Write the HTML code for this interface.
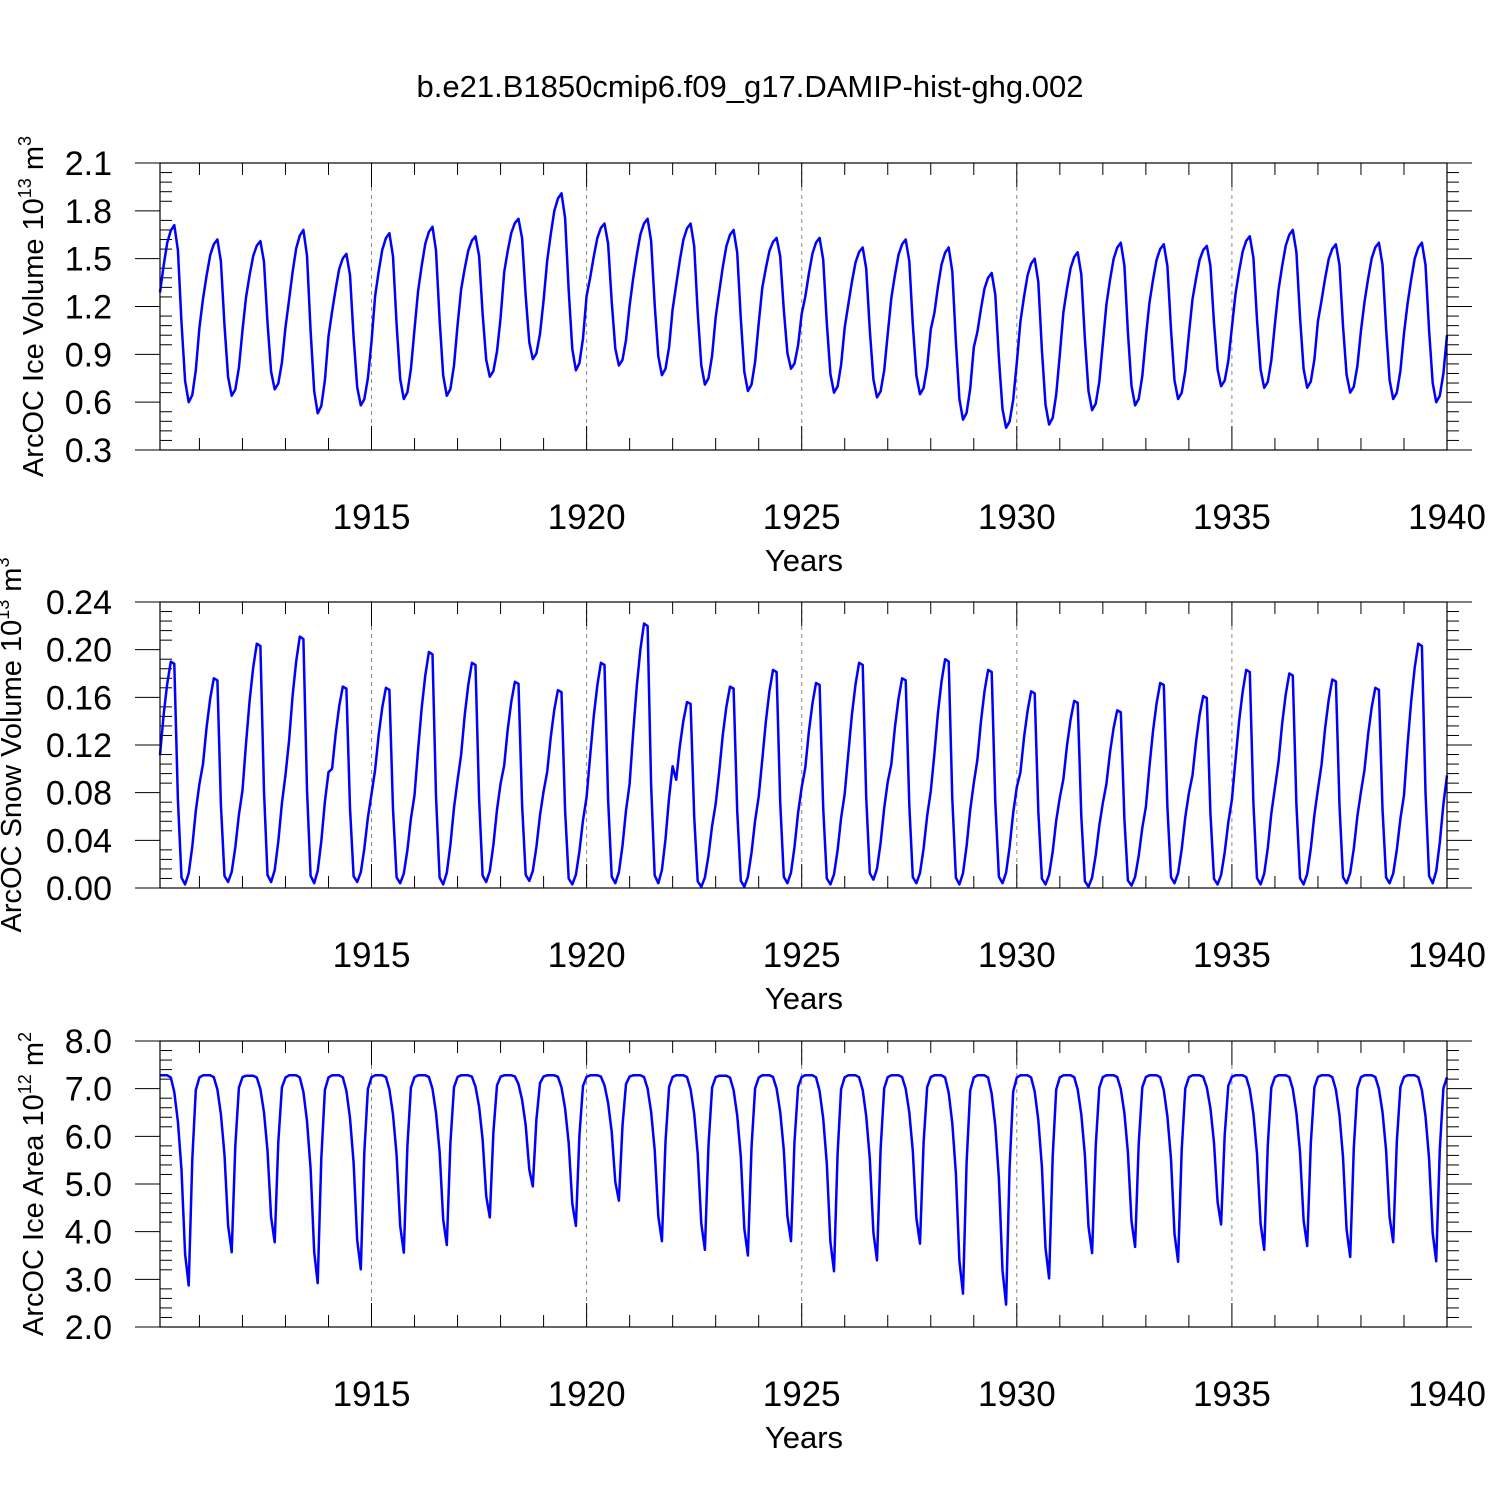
<!DOCTYPE html>
<html><head><meta charset="utf-8"><style>
html,body{margin:0;padding:0;background:#fff}
svg{display:block;font-family:"Liberation Sans",sans-serif}
</style></head><body>
<svg id="c" width="1500" height="1500" xmlns="http://www.w3.org/2000/svg">
<text x="750" y="97" text-anchor="middle" font-size="31">b.e21.B1850cmip6.f09_g17.DAMIP-hist-ghg.002</text>
</svg>
<script>
// Ice volume: yearly peaks and Sep troughs (10^13 m3), seasonal profile
const iceVolPeak=[1.71,1.62,1.61,1.68,1.53,1.66,1.70,1.64,1.75,1.91,1.72,1.75,1.72,1.68,1.63,1.63,1.57,1.62,1.57,1.41,1.50,1.54,1.60,1.59,1.58,1.64,1.68,1.59,1.60,1.60];
const iceVolTrough=[0.60,0.64,0.68,0.53,0.58,0.62,0.64,0.76,0.87,0.80,0.83,0.77,0.71,0.67,0.81,0.66,0.63,0.65,0.49,0.44,0.46,0.55,0.58,0.62,0.70,0.69,0.69,0.66,0.62,0.60];
const iceVolProfile=[0.62,0.77,0.9,0.97,1.0,0.86,0.45,0.12,0,0.04,0.18,0.42];
// Snow volume: yearly peaks
const snowPeak=[0.190,0.176,0.205,0.211,0.169,0.168,0.198,0.189,0.173,0.166,0.189,0.222,0.156,0.169,0.183,0.172,0.189,0.176,0.192,0.183,0.165,0.157,0.149,0.172,0.161,0.183,0.180,0.175,0.168,0.205];
const snowTrough=[0.003,0.005,0.005,0.004,0.005,0.004,0.003,0.005,0.006,0.003,0.004,0.004,0.001,0.001,0.004,0.003,0.007,0.004,0.003,0.004,0.003,0.001,0.002,0.004,0.003,0.003,0.003,0.004,0.004,0.004];
const snowProfile=[0.58,0.76,0.9,1.0,0.99,0.38,0.03,0.0,0.05,0.17,0.33,0.45];
// Ice area: yearly Sep troughs (10^12 m2), winter max
const areaMax=[7.28,7.28,7.27,7.28,7.28,7.28,7.28,7.28,7.28,7.28,7.28,7.28,7.28,7.27,7.28,7.28,7.28,7.28,7.28,7.28,7.28,7.28,7.28,7.28,7.28,7.28,7.28,7.28,7.28,7.28];
const areaTrough=[2.87,3.57,3.78,2.92,3.21,3.56,3.72,4.30,4.95,4.12,4.65,3.80,3.62,3.50,3.80,3.17,3.40,3.75,2.70,2.47,3.02,3.55,3.68,3.37,4.15,3.62,3.70,3.47,3.78,3.38];
const areaProfile=[1,1,1,0.99,0.92,0.78,0.55,0.15,0,0.6,0.93,0.99];
const xTicks=[1915,1920,1925,1930,1935,1940];

const NS="http://www.w3.org/2000/svg";
const svg=document.getElementById('c');
const X0=160,X1=1447,T0=1910+1/12,T1=1940;
function xs(t){return X0+(t-T0)/(T1-T0)*(X1-X0);}
function mk(tag,attrs,parent){const e=document.createElementNS(NS,tag);for(const k in attrs)e.setAttribute(k,attrs[k]);(parent||svg).appendChild(e);return e;}
function series(peak,trough,prof){const v=[];for(let y=0;y<peak.length;y++)for(let m=0;m<12;m++)v.push(trough[y]+prof[m]*(peak[y]-trough[y]));return v;}

const panels=[
 {top:163,bot:450,ymin:0.3,ymax:2.1,major:0.3,minor:0.06,fmt:v=>v.toFixed(1),vals:series(iceVolPeak,iceVolTrough,iceVolProfile),title:"ArcOC Ice Volume 10",sup:"13",unit:"m",usup:"3",name:"ice-volume",tx:43},
 {top:602,bot:888,ymin:0,ymax:0.24,major:0.04,minor:0.008,fmt:v=>v.toFixed(2),vals:series(snowPeak,snowTrough,snowProfile),title:"ArcOC Snow Volume 10",sup:"13",unit:"m",usup:"3",name:"snow-volume",tx:21},
 {top:1041,bot:1327,ymin:2,ymax:8,major:1,minor:0.2,fmt:v=>v.toFixed(1),vals:series(areaMax,areaTrough,areaProfile),title:"ArcOC Ice Area 10",sup:"12",unit:"m",usup:"2",name:"ice-area",tx:43}
];
panels.forEach(p=>{
 const g=mk('g',{});
 
 
 const ys=v=>p.bot-(v-p.ymin)/(p.ymax-p.ymin)*(p.bot-p.top);
 xTicks.forEach(t=>{const l=mk('line',{x1:xs(t),x2:xs(t),y1:p.top,y2:p.bot,stroke:'#888','stroke-width':1,'stroke-dasharray':'4,4'},g);
  });
 for(let yr=1911;yr<=1940;yr++){const x=xs(yr);const L=(yr%5==0)?24:12;
  mk('line',{x1:x,x2:x,y1:p.top,y2:p.top+L,stroke:'#000','stroke-width':1},g);
  mk('line',{x1:x,x2:x,y1:p.bot,y2:p.bot-L,stroke:'#000','stroke-width':1},g);}
 xTicks.forEach(t=>{const tx=mk('text',{x:xs(t),y:p.bot+79,'text-anchor':'middle','font-size':35},g);tx.textContent=t;
  });
 const xt=mk('text',{x:804,y:p.bot+121,'text-anchor':'middle','font-size':31},g);xt.textContent='Years';
 
 const nMin=Math.round((p.ymax-p.ymin)/p.minor);
 for(let i=0;i<=nMin;i++){const v=p.ymin+i*p.minor;const y=ys(v);const maj=(i%5==0);
  mk('line',{x1:X0-(maj?25:0),x2:X0+(maj?0:12),y1:y,y2:y,stroke:'#000','stroke-width':1},g);
  mk('line',{x1:X1,x2:X1+(maj?25:12),y1:y,y2:y,stroke:'#000','stroke-width':1},g);
  if(maj){const tx=mk('text',{x:112,y:y+12,'text-anchor':'end','font-size':34},g);tx.textContent=p.fmt(v);
   }}
 const cy=(p.top+p.bot)/2;
 const yt=mk('text',{x:0,y:0,'text-anchor':'middle','font-size':29,transform:`translate(${p.tx},${cy}) rotate(-90)`},g);
 
 yt.innerHTML=`${p.title}<tspan dy="-12" font-size="18">${p.sup}</tspan><tspan dy="12"> ${p.unit}</tspan><tspan dy="-12" font-size="18">${p.usup}</tspan>`;
 const pts=p.vals.map((v,i)=>xs(T0+i/12).toFixed(1)+','+ys(v).toFixed(1)).join(' ');
 const pl=mk('polyline',{points:pts,fill:'none',stroke:'#0000ff','stroke-width':2.5,'stroke-linejoin':'round'},g);
 
 mk('rect',{x:X0,y:p.top,width:X1-X0,height:p.bot-p.top,fill:'none',stroke:'#000','stroke-width':1.2},g);
});
</script>
</body></html>
